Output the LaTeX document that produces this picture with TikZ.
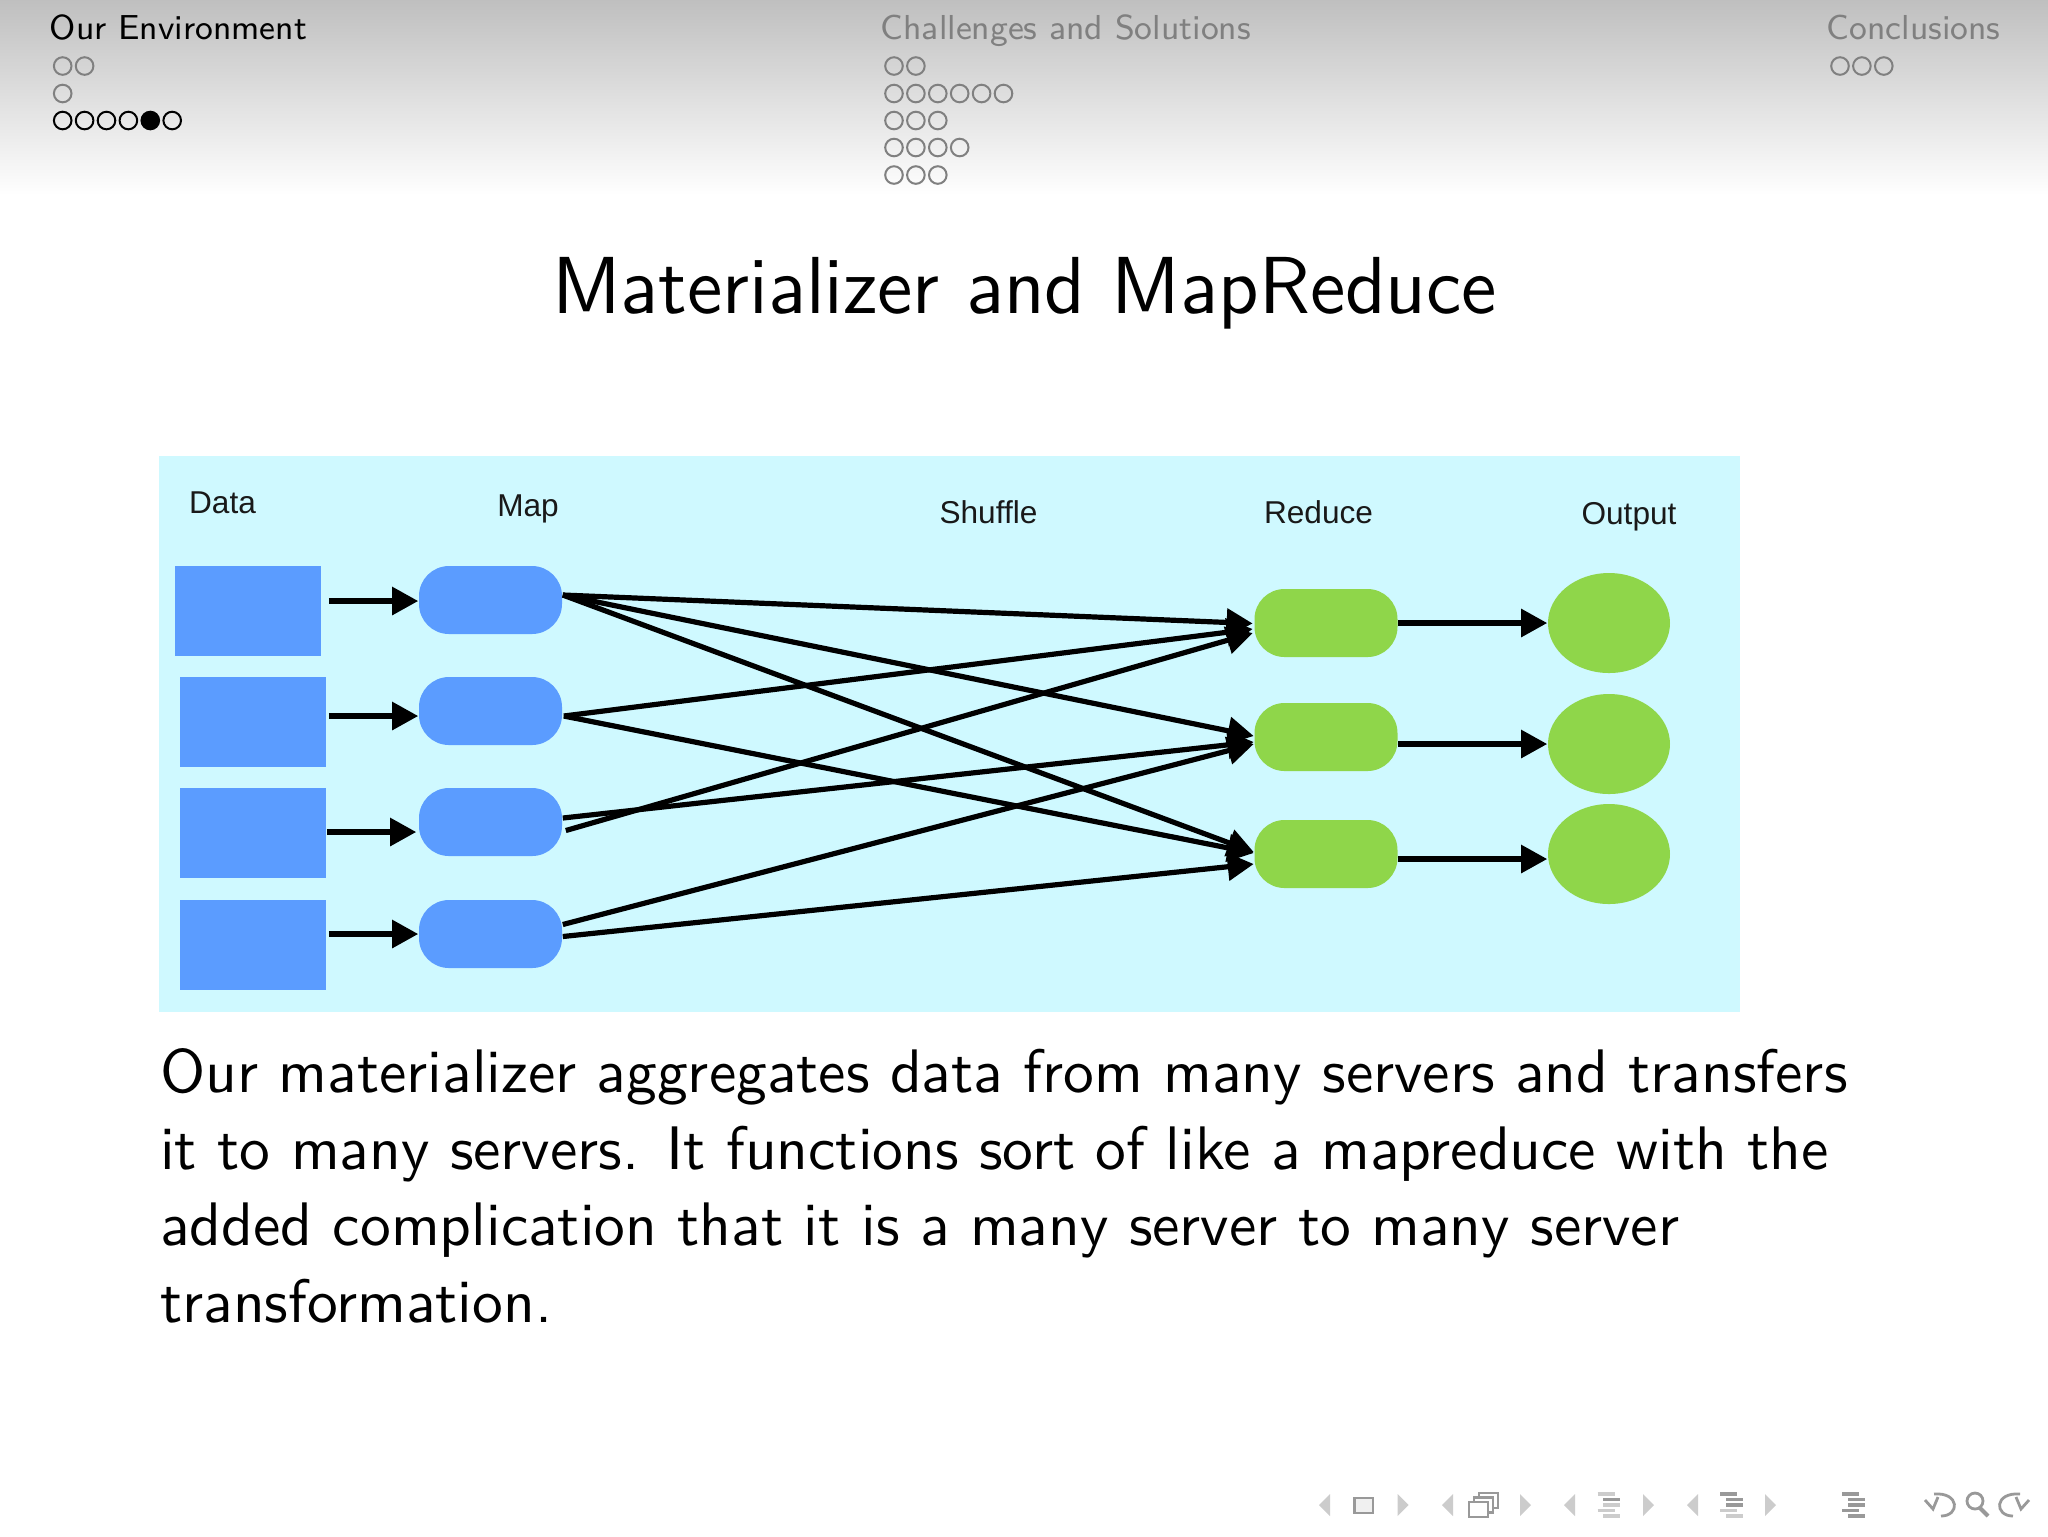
\documentclass[tikz,border=0pt]{standalone}
\usepackage{fontspec}
\newfontfamily\helv{Liberation Sans}
\newfontfamily\bodyfont{lmsans10-regular.otf}
\newfontfamily\titlefont{lmsans12-regular.otf}
\usetikzlibrary{arrows.meta,shapes.geometric}
\definecolor{panelbg}{HTML}{CFF9FF}
\definecolor{mapblue}{HTML}{5B9CFF}
\definecolor{redgreen}{HTML}{8FD64A}
\definecolor{navA}{gray}{0.8}
\definecolor{navB}{gray}{0.6}
\tikzset{
  x=0.25pt,y=-0.25pt,
  databox/.style={fill=mapblue,minimum width=36.5pt,minimum height=22.5pt,inner sep=0pt},
  mappill/.style={fill=mapblue,rounded corners=7.5pt,minimum width=35.75pt,minimum height=17pt,inner sep=0pt},
  redpill/.style={fill=redgreen,rounded corners=7.5pt,minimum width=35.75pt,minimum height=17pt,inner sep=0pt},
  outoval/.style={fill=redgreen,ellipse,minimum width=30.5pt,minimum height=25pt,inner sep=0pt},
  arr/.style={-{Triangle[length=6.5pt,width=6.8pt]},line width=1.3pt,black},
  lab/.style={font=\helv\fontsize{7.9}{9}\selectfont,inner sep=0pt,text=black!90},
  sect/.style={font=\sffamily\fontsize{8.66}{11}\selectfont,inner sep=0pt,anchor=base west},
  minidot/.style={circle,draw=#1,line width=0.5pt,minimum size=4.4pt,inner sep=0pt},
  navtri/.style={fill=navA},
  navbar/.style={line width=0.9pt},
  navline/.style={navB,line width=0.7pt}
}
\begin{document}
\begin{tikzpicture}
\useasboundingbox (0,0) rectangle (2048,1536);
\fill[white] (0,0) rectangle (2048,1536);
\shade[top color=black!25,bottom color=white] (0,0) rectangle (2048,195);
% header
\node[sect,text=black] (s1) at (49,39.5) {Our Environment};
\node[sect,text=black!50] (s2) at (880,39.5) {Challenges and Solutions};
\node[sect,text=black!50] (s3) at (1826,39.5) {Conclusions};
\foreach \i in {0,1} \node[minidot=black!50] (a1\i) at (62.7+21.9*\i,66) {};
\node[minidot=black!50] (a20) at (62.7,93.5) {};
\foreach \i in {0,1,2,3,5} \node[minidot=black] (a3\i) at (62.7+21.9*\i,120.5) {};
\node[minidot=black,fill=black] (a34) at (62.7+21.9*4,120.5) {};
\foreach \r/\n/\y in {1/1/66,2/5/93.5,3/2/120.5,4/3/147.5,5/2/175}
  \foreach \i in {0,...,\n} \node[minidot=black!50] (b\r\i) at (894+21.9*\i,\y) {};
\foreach \i in {0,1,2} \node[minidot=black!50] (c1\i) at (1840+21.9*\i,66) {};
% title
\node[inner sep=0pt,anchor=base,font=\titlefont\fontsize{20.22}{25}\selectfont] (title) at (1024.5,313.5) {Materializer and MapReduce};
% panel
\fill[panelbg] (159,456) rectangle (1740,1012);
\node[lab] (l1) at (222.5,503) {Data};
\node[lab] (l2) at (528,509) {Map};
\node[lab] (l3) at (988.5,512) {Shuffle};
\node[lab] (l4) at (1318.5,512) {Reduce};
\node[lab] (l5) at (1629,517) {Output};
\node[databox] (d1) at (248,611) {};
\node[databox] (d2) at (253,722) {};
\node[databox] (d3) at (253,833) {};
\node[databox] (d4) at (253,945) {};
\node[mappill] (m1) at (490.5,600) {};
\node[mappill] (m2) at (490.5,711) {};
\node[mappill] (m3) at (490.5,822) {};
\node[mappill] (m4) at (490.5,934) {};
\node[redpill] (r1) at (1326,623) {};
\node[redpill] (r2) at (1326,737) {};
\node[redpill] (r3) at (1326,854) {};
\node[outoval] (o1) at (1609,623) {};
\node[outoval] (o2) at (1609,744) {};
\node[outoval] (o3) at (1609,854) {};
% data -> map
\draw[arr] ([shift={(7,0)}]d1.east |- m1.west) ++(0,1) -- ([shift={(0,1)}]m1.west);
\draw[arr] ([shift={(2,0)}]d2.east |- m2.west) ++(0,5) -- ([shift={(0,5)}]m2.west);
\draw[arr] (d3.east |- m3.west) ++(0,10) -- ([shift={(-2,10)}]m3.west);
\draw[arr] ([shift={(2,0)}]d4.east |- m4.west) -- (m4.west);
% shuffle
\draw[arr] ([shift={(0,-5)}]m1.east) -- ([shift={(-1,0.5)}]r1.west);
\draw[arr] ([shift={(0,-5)}]m1.east) -- ([shift={(0,-1)}]r2.west);
\draw[arr] ([shift={(0,-5)}]m1.east) -- ([shift={(0,-2)}]r3.west);
\draw[arr] ([shift={(1,5)}]m2.east) -- ([shift={(-1,6)}]r1.west);
\draw[arr] ([shift={(1,5)}]m2.east) -- ([shift={(0,-1)}]r3.west);
\draw[arr] ([shift={(3,8.5)}]m3.east) -- ([shift={(-1,10)}]r1.west);
\draw[arr] ([shift={(0,-4)}]m3.east) -- ([shift={(0,5)}]r2.west);
\draw[arr] ([shift={(0,-9.5)}]m4.east) -- ([shift={(0,7)}]r2.west);
\draw[arr] ([shift={(0,2.5)}]m4.east) -- ([shift={(0,10)}]r3.west);
% reduce -> output
\draw[arr] (r1.east) -- (o1.west);
\draw[arr] ([shift={(0,7)}]r2.east) -- (o2.west);
\draw[arr] ([shift={(0,5)}]r3.east) -- ([shift={(0,5)}]o3.west);
% body
\node[inner sep=0pt,anchor=north west,align=left,font=\bodyfont\fontsize{15.37}{19.1}\selectfont] (body) at (159.5,1048) {Our materializer aggregates data from many servers and transfers\\it to many servers. It functions sort of like a mapreduce with the\\added complication that it is a many server to many server\\transformation.};
% navigation symbols
\foreach \a/\dir in {1319/1,1397.6/-1,1442/1,1520/-1,1564/1,1643/-1,1687/1,1765/-1}{
  \pgfmathsetmacro\xa{\dir>0?\a+11:\a}
  \pgfmathsetmacro\xb{\dir>0?\a:\a+11}
  \fill[navtri] (\xa,1494) -- (\xa,1516) -- (\xb,1505) -- cycle;
}
\draw[navline,fill=navA!30] (1354.5,1498) rectangle (1373,1513);
\foreach \d in {2,1,0}
  \draw[navline,line width=0.6pt,fill=white] (1469+5*\d,1502-4.5*\d) rectangle ++(19,15);
\foreach \x/\y/\c in {1597.5/1494/navA,1603/1499.5/navB,1603/1505/navA,1597.5/1510.5/navA,1603/1516/navA}
  \draw[navbar,\c] (\x,\y) -- ++(17,0);
\foreach \x/\y/\c in {1720/1494/navB,1726/1499.5/navB,1726/1505/navB,1720/1510.5/navA,1726/1516/navA}
  \draw[navbar,\c] (\x,\y) -- ++(17,0);
\foreach \x/\y/\c in {1842/1494/navB,1848/1499.5/navB,1848/1505/navB,1842/1510.5/navB,1848/1516/navB}
  \draw[navbar,\c] (\x,\y) -- ++(17,0);
\draw[navline] (1934,1494) .. controls (1960,1492) and (1960,1516) .. (1941,1516);
\draw[navline] (1925,1500) -- (1933,1509) -- (1938,1497);
\draw[navline] (1975,1501) circle[radius=8];
\draw[navline,line width=1pt] (1980,1508) -- (1988,1516);
\draw[navline] (2020,1494) .. controls (1994,1492) and (1994,1516) .. (2013,1516);
\draw[navline] (2029,1500) -- (2021,1509) -- (2016,1497);
\end{tikzpicture}
\end{document}
